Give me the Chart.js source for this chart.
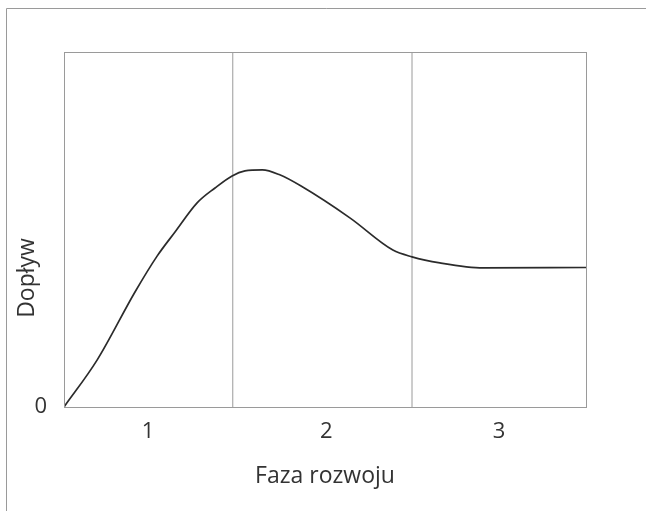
<!DOCTYPE html>
<html>
<head>
<meta charset="utf-8">
<script src="https://cdn.jsdelivr.net/npm/chart.js@4/dist/chart.umd.min.js"></script>
<style>
  html, body { margin: 0; padding: 0; background: #fff; }
  canvas { display: block; }
</style>
</head>
<body>
<canvas id="phaseChart" width="646" height="511"></canvas>
<script>
// Phase labels and where they sit on the x axis (phase units 0..3)
const phaseLabels = ['1', '2', '3'];
const phaseCenters = [0.483, 1.507, 2.5];
const phaseBounds = [0.97, 2.0];

// Inflow curve
const flowX = [0, 0.19, 0.408, 0.535, 0.638, 0.765, 0.868, 0.966, 1.04, 1.14, 1.24, 1.36, 1.645, 1.89, 2.0, 2.16, 2.41, 3.0];
const flowY = [0, 13.2, 32.4, 42.5, 49.3, 57.5, 61.7, 65.1, 66.5, 66.8, 65.4, 62.3, 53.2, 44.2, 42.3, 40.6, 39.2, 39.3];

const yTicks = [0];
const yTickLabels = ['0'];
const xTitle = 'Faza rozwoju';
const yTitle = 'Dopływ';

const FONT = '"Open Sans", "Noto Sans", sans-serif';
const TEXT = '#333333';
const FRAME = '#9a9a9a';

// Frame, plot box and rotated y title
const decorPlugin = {
    id: 'decor',
    beforeDraw(chart) {
        const ctx = chart.ctx;
        ctx.save();
        ctx.strokeStyle = FRAME;
        ctx.lineWidth = 1;
        ctx.beginPath();
        ctx.moveTo(6.5, chart.height);
        ctx.lineTo(6.5, 8.5);
        ctx.lineTo(chart.width, 8.5);
        ctx.stroke();
        ctx.restore();
    },
    afterDraw(chart) {
        const ctx = chart.ctx;
        const a = chart.chartArea;
        ctx.save();
        ctx.strokeStyle = FRAME;
        ctx.lineWidth = 1;
        ctx.strokeRect(Math.round(a.left) + 0.5, Math.round(a.top) + 0.5,
            Math.round(a.right - a.left), Math.round(a.bottom - a.top));
        ctx.translate(27, 278);
        ctx.rotate(-Math.PI / 2);
        ctx.fillStyle = TEXT;
        ctx.font = '23px ' + FONT;
        ctx.textAlign = 'center';
        ctx.textBaseline = 'middle';
        ctx.fillText(yTitle, 0, 0);
        ctx.restore();
    }
};

const ctx = document.getElementById('phaseChart');

const dividerSets = phaseBounds.map(function(b) {
    return {
        data: [{ x: b, y: 0 }, { x: b, y: 100 }],
        borderColor: FRAME,
        borderWidth: 1,
        pointRadius: 0,
        fill: false
    };
});

new Chart(ctx, {
    type: 'line',
    data: {
        datasets: [{
            data: flowX.map(function(x, i) { return { x: x, y: flowY[i] }; }),
            borderColor: '#2b2b2b',
            borderWidth: 1.7,
            pointRadius: 0,
            cubicInterpolationMode: 'monotone',
            fill: false
        }].concat(dividerSets)
    },
    options: {
        responsive: false,
        animation: false,
        devicePixelRatio: 1,
        layout: { padding: { top: 52, right: 60, left: 0, bottom: 0 } },
        plugins: {
            legend: { display: false },
            tooltip: { enabled: false }
        },
        scales: {
            x: {
                type: 'linear',
                min: 0,
                max: 3,
                grid: { display: false, drawTicks: false },
                border: { display: false },
                afterBuildTicks: function(axis) {
                    axis.ticks = phaseCenters.map(function(v) { return { value: v }; });
                },
                afterFit: function(axis) { axis.height = 104; },
                ticks: {
                    autoSkip: false,
                    maxRotation: 0,
                    padding: 12,
                    color: TEXT,
                    font: { family: FONT, size: 22 },
                    callback: function(v, i) { return phaseLabels[i]; }
                },
                title: {
                    display: true,
                    text: xTitle,
                    color: TEXT,
                    font: { family: FONT, size: 23 },
                    padding: { top: 4, bottom: 21 }
                }
            },
            y: {
                type: 'linear',
                min: 0,
                max: 100,
                grid: { display: false, drawTicks: false },
                border: { display: false },
                afterBuildTicks: function(axis) {
                    axis.ticks = yTicks.map(function(v) { return { value: v }; });
                },
                afterFit: function(axis) { axis.width = 64; },
                ticks: {
                    padding: 17,
                    color: TEXT,
                    font: { family: FONT, size: 22 },
                    callback: function(v, i) { return yTickLabels[i]; }
                }
            }
        }
    },
    plugins: [decorPlugin]
});
</script>
</body>
</html>
